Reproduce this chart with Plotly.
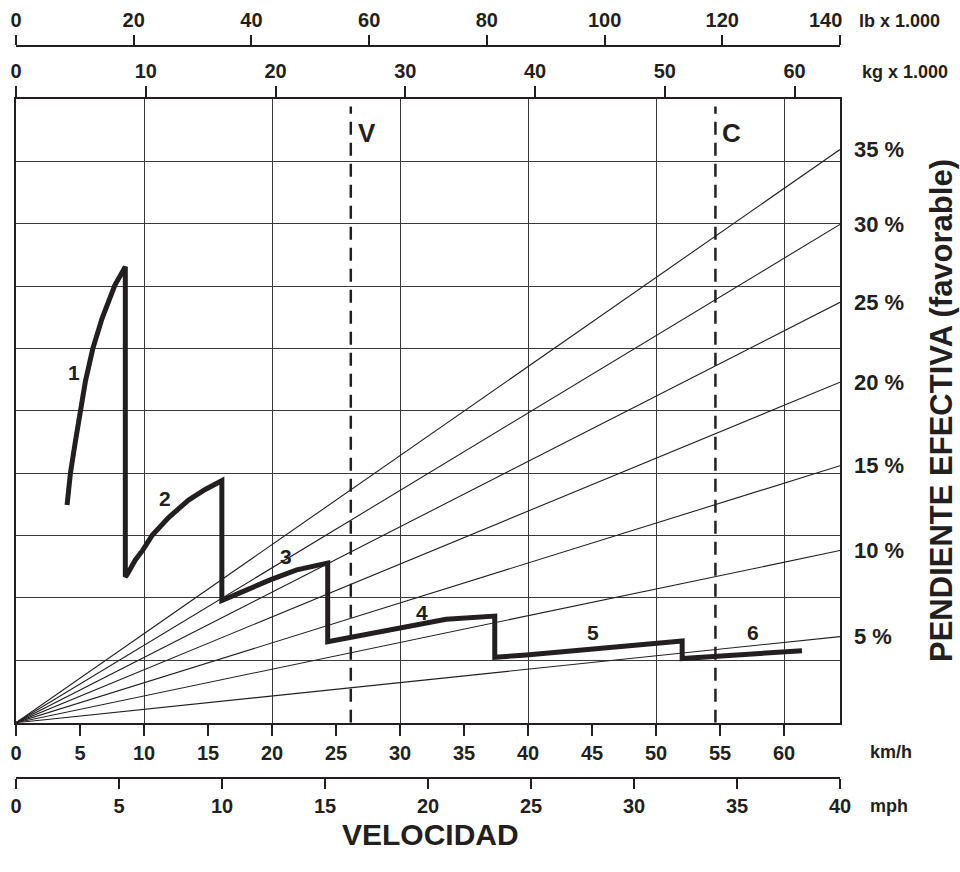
import plotly.graph_objects as go

# ---------------- data ----------------
KMH_MAX = 64.37          # right edge of the chart, km/h (= 40 mph)
KG_MAX = 63.5            # right edge on weight scale, kg x 1000 (= 140 lb x 1000)
LB_MAX = 140
MPH_MAX = 40

kmh_ticks = list(range(0, 65, 5))
kmh_grid = list(range(10, 61, 10))
mph_ticks = list(range(0, 41, 5))
kg_ticks = list(range(0, 61, 10))
lb_ticks = list(range(0, 141, 20))
lb_ticktext = ["0", "20", "40", "60", "80", "100", "120", ""]   # last one drawn right-aligned
lb_last_label = "140"

# effective grade lines: value reached at the right edge
grade_labels = ["5 %", "10 %", "15 %", "20 %", "25 %", "30 %", "35 %"]
grade_end_vals = [1.38, 2.76, 4.12, 5.46, 6.74, 7.99, 9.19]

# retarder curve per gear (speed km/h, value in grid units)
gear1_kmh = [3.99, 4.25, 4.64, 5.03, 5.42, 5.99, 6.72, 7.71, 8.54]
gear1_val = [3.49, 4.00, 4.51, 5.00, 5.47, 5.99, 6.48, 7.01, 7.31]
gear2_kmh = [8.54, 8.67, 9.32, 9.92, 10.62, 11.92, 13.48, 14.78, 16.08]
gear2_val = [2.34, 2.37, 2.61, 2.77, 3.00, 3.29, 3.57, 3.74, 3.88]
gear3_kmh = [16.08, 18.03, 19.85, 21.93, 24.35]
gear3_val = [1.96, 2.13, 2.29, 2.45, 2.56]
gear4_kmh = [24.35, 26.2, 29.9, 33.6, 37.4]
gear4_val = [1.30, 1.37, 1.53, 1.66, 1.71]
gear5_kmh = [37.4, 39.87, 44.8, 49.94, 52.04]
gear5_val = [1.05, 1.085, 1.18, 1.26, 1.31]
gear6_kmh = [52.04, 54.7, 59.84, 61.4]
gear6_val = [1.03, 1.07, 1.13, 1.155]

gear_names = ["1", "2", "3", "4", "5", "6"]
gear_label_kmh = [4.56, 11.66, 21.1, 31.7, 45.1, 57.6]
gear_label_val = [5.61, 3.59, 2.66, 1.76, 1.45, 1.45]

# gross weights: V = empty, C = loaded (kg x 1000)
weight_names = ["V", "C"]
weight_kg = [25.8, 53.9]
weight_label_val = 9.45

# ---------------- styling ----------------
INK = "#231f20"
GRID = "#3a3a3a"
FONT = "Liberation Sans, Arial, Helvetica, sans-serif"
tick_font = dict(family=FONT, size=20, color=INK, weight="bold")

W, H = 960, 872
PL, PR, PT, PB = 16, 120, 8, 56
PW = W - PL - PR
PH = H - PT - PB


def py(px):
    """page pixel row -> paper fraction"""
    return (H - PB - px) / PH


def pxf(px):
    """page pixel column -> paper fraction"""
    return (px - PL) / PW


fig = go.Figure()

# grade lines
for lab, v in zip(grade_labels, grade_end_vals):
    fig.add_trace(go.Scatter(x=[0, KMH_MAX], y=[0, v], mode="lines",
                             line=dict(color=INK, width=1.1),
                             hoverinfo="skip", showlegend=False,
                             xaxis="x", yaxis="y"))

# V / C dashed lines on the weight axis
for w in weight_kg:
    fig.add_trace(go.Scatter(x=[w, w], y=[0.0, 9.88], mode="lines",
                             line=dict(color=INK, width=2.5, dash="13px,8px"),
                             hoverinfo="skip", showlegend=False,
                             xaxis="x2", yaxis="y"))

# retarder curve, all gears joined by vertical shifts
curve_x, curve_y = [], []
for gx, gy in [(gear1_kmh, gear1_val), (gear2_kmh, gear2_val), (gear3_kmh, gear3_val),
               (gear4_kmh, gear4_val), (gear5_kmh, gear5_val), (gear6_kmh, gear6_val)]:
    curve_x += gx
    curve_y += gy
fig.add_trace(go.Scatter(x=curve_x, y=curve_y, mode="lines",
                         line=dict(color=INK, width=5),
                         hoverinfo="skip", showlegend=False,
                         xaxis="x", yaxis="y"))

# invisible traces to activate auxiliary axes
for ax in ["x3", "x4", "x5"]:
    fig.add_trace(go.Scatter(x=[None], y=[None], xaxis=ax, yaxis="y",
                             showlegend=False, hoverinfo="skip"))

annotations = []
for name, x, y in zip(gear_names, gear_label_kmh, gear_label_val):
    annotations.append(dict(x=x, y=y, xref="x", yref="y", text=name, showarrow=False,
                            font=dict(family=FONT, size=21, color=INK, weight="bold")))
for name, w in zip(weight_names, weight_kg):
    annotations.append(dict(x=w, y=weight_label_val, xref="x2", yref="y", text=name,
                            showarrow=False, xanchor="left", xshift=5,
                            font=dict(family=FONT, size=26, color=INK, weight="bold")))
for lab, v in zip(grade_labels, grade_end_vals):
    annotations.append(dict(x=1, y=v, xref="paper", yref="y", text=lab, showarrow=False,
                            xanchor="left", xshift=12,
                            font=dict(family=FONT, size=22, color=INK, weight="bold")))

# last lb label, right-aligned to its tick as in the reference
annotations.append(dict(x=lb_ticks[-1], y=py(20), xref="x3", yref="paper", text=lb_last_label,
                        showarrow=False, xanchor="right", yanchor="middle", xshift=4,
                        font=tick_font))

# unit labels
unit_font = dict(family=FONT, size=18, color=INK, weight="bold")
for txt, px_x, px_y in [("lb x 1.000", 857, 21), ("kg x 1.000", 860, 72),
                        ("km/h", 868, 752), ("mph", 868, 806)]:
    annotations.append(dict(x=pxf(px_x), y=py(px_y), xref="paper", yref="paper", text=txt,
                            showarrow=False, xanchor="left", yanchor="middle",
                            font=unit_font))

annotations.append(dict(x=pxf(430), y=py(835), xref="paper", yref="paper",
                        text="VELOCIDAD", showarrow=False,
                        xanchor="center", yanchor="middle",
                        font=dict(family=FONT, size=30, color=INK, weight="bold")))
annotations.append(dict(x=pxf(941), y=py(410), xref="paper", yref="paper",
                        text="PENDIENTE EFECTIVA (favorable)", showarrow=False,
                        textangle=-90, xanchor="center", yanchor="middle",
                        font=dict(family=FONT, size=31, color=INK, weight="bold")))

common = dict(showgrid=False, zeroline=False, tickfont=tick_font, linecolor=INK,
              linewidth=1.6, tickcolor=INK, tickwidth=1.6, ticks="outside")

fig.update_layout(
    width=W, height=H,
    margin=dict(l=PL, r=PR, t=PT, b=PB, autoexpand=False),
    paper_bgcolor="white", plot_bgcolor="white",
    showlegend=False,
    annotations=annotations,
    xaxis=dict(range=[0, KMH_MAX], tickvals=kmh_ticks, ticklen=11, showline=True,
               side="bottom", anchor="y", **common),
    xaxis2=dict(range=[0, KG_MAX], tickvals=kg_ticks, ticklen=11, showline=True,
                side="top", anchor="y", overlaying="x", **common),
    xaxis3=dict(range=[0, LB_MAX], tickvals=lb_ticks, ticktext=lb_ticktext, ticklen=10,
                showline=True, side="top", anchor="free", position=py(46),
                overlaying="x", **common),
    xaxis4=dict(range=[0, MPH_MAX], tickvals=mph_ticks, ticklen=10, showline=True,
                side="bottom", anchor="free", position=py(777.7), overlaying="x", **common),
    xaxis5=dict(range=[0, KMH_MAX], tickvals=kmh_grid, showgrid=True, gridcolor=GRID,
                gridwidth=1.2, showticklabels=False, ticks="", showline=False,
                zeroline=False, overlaying="x", anchor="y"),
    yaxis=dict(range=[0, 10], dtick=1, showgrid=True, gridcolor=GRID, gridwidth=1.2,
               showticklabels=False, ticks="", zeroline=False, showline=True,
               mirror=True, linecolor=INK, linewidth=1.6,
               domain=[py(722.7), py(99)]),
)

fig.write_html("out.html", config={"displayModeBar": False},
               post_script="document.body.style.margin='0';document.body.style.overflow='hidden';")
